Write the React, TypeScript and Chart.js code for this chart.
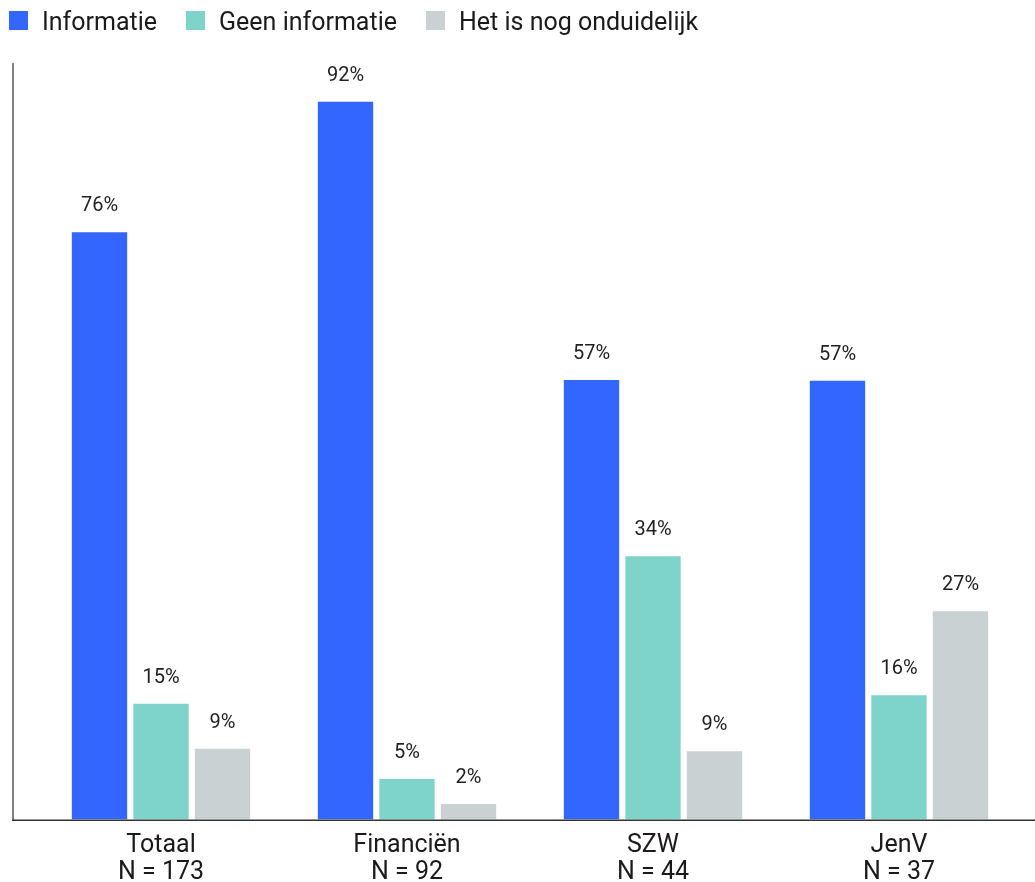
import React, { useEffect, useRef } from "react";
import { Chart, registerables } from "chart.js";

Chart.register(...registerables);

const categories = ["Totaal", "Financiën", "SZW", "JenV"];
const sampleSizes = [173, 92, 44, 37];
const seriesNames = ["Informatie", "Geen informatie", "Het is nog onduidelijk"];
const informatie = [75.6, 92.4, 56.6, 56.5];
const geenInformatie = [14.9, 5.2, 33.9, 16.0];
const onduidelijk = [9.1, 2.0, 8.8, 26.8];
const seriesColors = ["#3366FF", "#7ED3CB", "#C9D1D3"];
const yMax = 97.4;

const FONT = "Roboto, 'Noto Sans', sans-serif";

const valueLabelPlugin = {
  id: "valueLabels",
  afterDatasetsDraw(chart: any) {
    const ctx = chart.ctx;
    ctx.save();
    ctx.font = `20px ${FONT}`;
    ctx.fillStyle = "#222222";
    ctx.textAlign = "center";
    ctx.textBaseline = "alphabetic";
    chart.data.datasets.forEach((ds: any, di: number) => {
      const meta = chart.getDatasetMeta(di);
      meta.data.forEach((el: any, i: number) => {
        const v = ds.data[i];
        ctx.fillText(`${Math.round(v)}%`, el.x, el.y - 21);
      });
    });
    ctx.restore();
  },
};

const axisLinesPlugin = {
  id: "axisLines",
  afterDatasetsDraw(chart: any) {
    const { ctx, chartArea, scales } = chart;
    const base = scales.y.getPixelForValue(0);
    const axisX = chartArea.left - 25;
    ctx.save();
    ctx.strokeStyle = "#808080";
    ctx.lineWidth = 2;
    ctx.beginPath();
    ctx.moveTo(axisX, chartArea.top);
    ctx.lineTo(axisX, base + 1);
    ctx.stroke();
    ctx.strokeStyle = "#333333";
    ctx.lineWidth = 1.5;
    ctx.beginPath();
    ctx.moveTo(axisX - 1, base + 0.75);
    ctx.lineTo(chart.width, base + 0.75);
    ctx.stroke();
    ctx.restore();
  },
};

export default function App() {
  const canvasRef = useRef<HTMLCanvasElement>(null);

  useEffect(() => {
    if (!canvasRef.current) return;
    const labels = categories.map((c, i) => [c, `N = ${sampleSizes[i]}`]);
    const seriesData = [informatie, geenInformatie, onduidelijk];
    const chart = new Chart(canvasRef.current, {
      type: "bar",
      data: {
        labels,
        datasets: seriesNames.map((name, i) => ({
          label: name,
          data: seriesData[i],
          backgroundColor: seriesColors[i],
          borderWidth: 0,
          categoryPercentage: 0.75,
          barPercentage: 0.9,
        })),
      },
      options: {
        animation: false,
        responsive: false,
        layout: { padding: { top: 63, left: 38, right: 13, bottom: 0 } },
        plugins: {
          legend: { display: false },
          tooltip: { enabled: false },
        },
        scales: {
          x: {
            grid: { display: false, drawTicks: false },
            border: { display: false },
            ticks: {
              color: "#1a1a1a",
              font: { family: FONT, size: 25, lineHeight: 1.08 },
              padding: 13,
              maxRotation: 0,
              autoSkip: false,
            },
            afterFit: (scale: any) => {
              scale.height = 62.5;
            },
          },
          y: {
            display: false,
            min: 0,
            max: yMax,
          },
        },
      },
      plugins: [axisLinesPlugin, valueLabelPlugin],
    });
    return () => chart.destroy();
  }, []);

  return (
    <div style={{ position: "absolute", left: 0, top: 0, width: 1035, height: 882, background: "#ffffff", fontFamily: FONT }}>
      <canvas ref={canvasRef} width={1035} height={882} style={{ position: "absolute", left: 0, top: 0 }} />
      <div style={{ position: "absolute", left: 9, top: 9, display: "flex", alignItems: "flex-start" }}>
        {seriesNames.map((name, i) => (
          <div key={name} style={{ display: "flex", alignItems: "flex-start", marginRight: 29 }}>
            <div style={{ width: 19, height: 19, marginTop: 2, background: seriesColors[i], marginRight: 14 }} />
            <div style={{ fontSize: 25, lineHeight: "25px", color: "#1a1a1a", whiteSpace: "nowrap" }}>{name}</div>
          </div>
        ))}
      </div>
    </div>
  );
}
